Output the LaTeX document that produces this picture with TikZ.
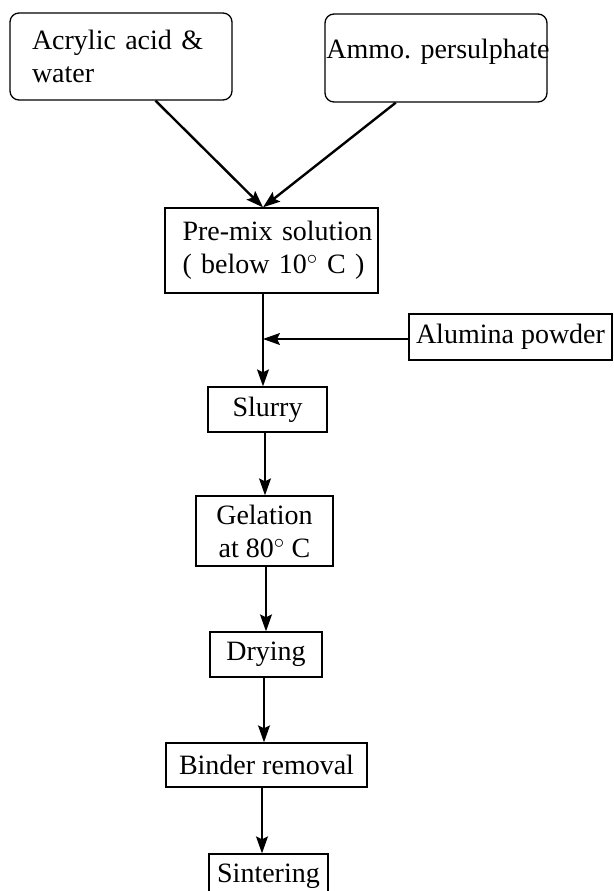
\documentclass[tikz,border=0pt]{standalone}
\usepackage{fontspec}
\setmainfont{Liberation Serif}
\usetikzlibrary{arrows.meta}
\begin{document}
\begin{tikzpicture}[x=1pt, y=-1pt,
        stage/.style={draw, line width=1.3pt, inner sep=0pt, font=\fontsize{28}{33}\selectfont},
        feed/.style={stage, rounded corners=9pt},
        flow/.style={line width=1.3pt, -{Stealth[length=17pt, width=12pt, inset=3pt]}},
        feedflow/.style={flow, line width=2.4pt}]
        \useasboundingbox (0,0) rectangle (613,891);

        % ---- raw materials ----
        \node[feed, minimum width=222, minimum height=87, text width=178, align=left]
            (acrylic) at (121,56.5) {Acrylic acid \&\\water};
        \node[feed, minimum width=222, minimum height=88] (ammo) at (436,58) {};
        \node[font=\fontsize{28}{33}\selectfont, inner sep=0pt] (ammotext) at (438,52) {Ammo. persulphate};

        % ---- pre-mix ----
        \node[stage, minimum width=213, minimum height=85, text width=178, align=left]
            (premix) at (271.5,250.5) {\mbox{Pre-mix solution}\\\mbox{( below 10$^\circ$ C )}};
        \coordinate (join) at (263,339);

        % ---- powder addition ----
        \node[stage, minimum width=203, minimum height=46] (alumina) at (510.5,337) {Alumina powder};

        % ---- processing steps ----
        \node[stage, minimum width=119, minimum height=45] (slurry) at (267.5,409.5) {Slurry};
        \node[stage, minimum width=137, minimum height=70, align=center]
            (gelation) at (264.5,531) {Gelation\\at 80$^\circ$ C};
        \node[stage, minimum width=112, minimum height=45] (drying) at (266,654.5) {Drying};
        \node[stage, minimum width=201, minimum height=44] (binder) at (266.5,765) {Binder removal};
        \node[stage, minimum width=119, minimum height=45] (sintering) at (268.5,876.5) {Sintering};

        % ---- connectors ----
        \draw[feedflow] (acrylic.-52) -- (premix.north -| join);
        \draw[feedflow] (ammo.-132) -- (premix.north -| join);
        \draw[flow] (premix.south -| join) -- (slurry.north -| join);
        \draw[flow] (alumina.west |- join) -- (join);
        \draw[flow] ([xshift=-2.5pt]slurry.south) -- ([xshift=-2.5pt]slurry.south |- gelation.north);
        \draw[flow] ([xshift=1.5pt]gelation.south) -- ([xshift=1.5pt]gelation.south |- drying.north);
        \draw[flow] ([xshift=-2pt]drying.south) -- ([xshift=-2pt]drying.south |- binder.north);
        \draw[flow] ([xshift=-4.5pt]binder.south) -- ([xshift=-4.5pt]binder.south |- sintering.north);
    \end{tikzpicture}
\end{document}
